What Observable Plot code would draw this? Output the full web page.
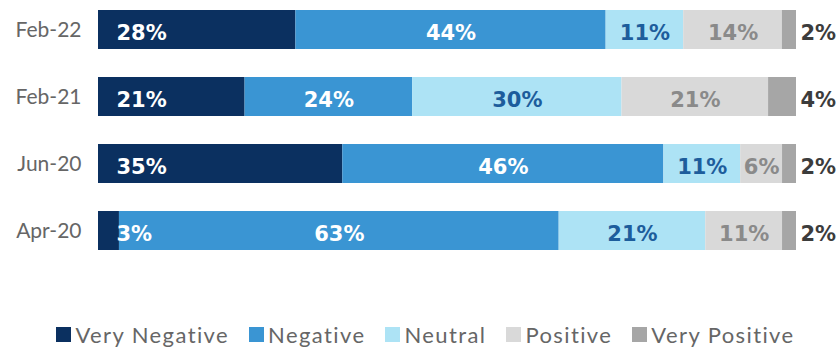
<!DOCTYPE html>
<html><head><meta charset="utf-8">
<script src="https://cdn.jsdelivr.net/npm/d3@7"></script>
<script src="https://cdn.jsdelivr.net/npm/@observablehq/plot@0.6"></script>
<style>
body{margin:0;background:#fff;font-family:Lato,sans-serif}
#legend{display:flex;justify-content:center;align-items:center;gap:20px;margin-top:61px;height:26px;font-size:22px;letter-spacing:1.4px;color:#666666;padding-left:14px}
#legend .item{display:flex;align-items:center;gap:4px;white-space:nowrap}
#legend .sw{width:15px;height:15px;display:inline-block}
</style></head><body><div id="chart"></div><div id="legend"></div>
<script>
const dates = ["Feb-22", "Feb-21", "Jun-20", "Apr-20"];
const categories = ["Very Negative", "Negative", "Neutral", "Positive", "Very Positive"];
const veryNegative = [28, 21, 35, 3];
const negative = [44, 24, 46, 63];
const neutral = [11, 30, 11, 21];
const positive = [14, 21, 6, 11];
const veryPositive = [2, 4, 2, 2];
const colors = ["#0b3060", "#3a95d3", "#ade3f5", "#d9d9d9", "#a6a6a6"];
const labelColors = ["#ffffff", "#ffffff", "#1d5d9c", "#8a8a8a", "#3c3c3c"];

const series = [veryNegative, negative, neutral, positive, veryPositive];
const data = [];
dates.forEach((d, i) => categories.forEach((c, j) => data.push({date: d, cat: c, value: series[j][i]})));

const stackOpts = {x: "value", y: "date", z: "cat", order: categories, offset: "normalize"};
const labelFont = {fontSize: 21, fontWeight: "bold", fontFamily: "DejaVu Sans", dy: 3};

const marks = [
  Plot.barX(data, Plot.stackX({...stackOpts, fill: "cat"}))
];
// Very Negative: left-aligned inside bar
marks.push(Plot.text(data, Plot.stackX1({...stackOpts, ...labelFont,
  text: d => d.cat === categories[0] ? d.value + "%" : null,
  textAnchor: "start", dx: 18, fill: labelColors[0]})));
// Middle categories: centered
[1, 2, 3].forEach(j => marks.push(Plot.text(data, Plot.stackX({...stackOpts, ...labelFont,
  text: d => d.cat === categories[j] ? d.value + "%" : null,
  fill: labelColors[j]}))));
// Very Positive: outside right
marks.push(Plot.text(data, Plot.stackX2({...stackOpts, ...labelFont,
  text: d => d.cat === categories[4] ? d.value + "%" : null,
  textAnchor: "start", dx: 4, fill: labelColors[4]})));
marks.push(Plot.axisY({tickSize: 0, tickPadding: 17, fontSize: 21, fill: "#666666", label: null, fontFamily: "Lato"}));

const chart = Plot.plot({
  width: 837, height: 260,
  marginLeft: 98, marginRight: 41, marginTop: 3, marginBottom: 3,
  x: {domain: [0, 1], axis: null},
  y: {domain: dates, paddingInner: 0.42, paddingOuter: 0.1, label: null},
  color: {domain: categories, range: colors},
  style: {fontFamily: "Lato", background: "white", overflow: "visible"},
  marks
});
document.getElementById("chart").appendChild(chart);

const legend = document.getElementById("legend");
categories.forEach((c, j) => {
  const it = document.createElement("div");
  it.className = "item";
  it.innerHTML = `<span class="sw" style="background:${colors[j]}"></span><span>${c}</span>`;
  legend.appendChild(it);
});
</script></body></html>
